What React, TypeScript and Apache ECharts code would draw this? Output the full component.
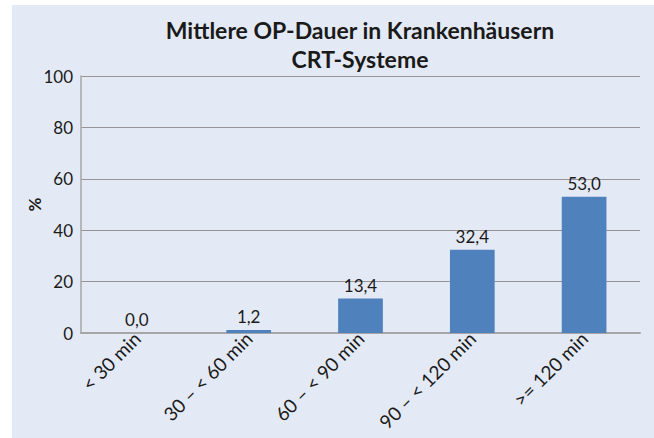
import React, { useEffect, useRef } from "react";
import * as echarts from "echarts";

const titleLines = ["Mittlere OP-Dauer in Krankenhäusern", "CRT-Systeme"];
const categories = ["< 30 min", "30 – < 60 min", "60 – < 90 min", "90 – < 120 min", ">= 120 min"];
const values = [0.0, 1.2, 13.4, 32.4, 53.0];
const yTicks = [0, 20, 40, 60, 80, 100];
const yName = "%";

const FONT = "Lato, 'Noto Sans', sans-serif";

export default function App() {
  const ref = useRef<HTMLDivElement>(null);
  useEffect(() => {
    if (!ref.current) return;
    const chart = echarts.init(ref.current, null, { renderer: "svg" });
    chart.setOption({
      animation: false,
      backgroundColor: "#ffffff",
      graphic: [
        {
          type: "rect",
          z: -10,
          silent: true,
          shape: { x: 12, y: 5, width: 642, height: 433 },
          style: { fill: "#e4eaf5" },
        },
      ],
      title: {
        text: titleLines.join("\n"),
        left: 355,
        top: 10,
        textAlign: "center",
        textStyle: {
          fontFamily: FONT,
          fontSize: 23,
          fontWeight: "bold",
          color: "#1a1a1a",
          lineHeight: 29,
        },
      },
      grid: { left: 81, right: 14, top: 76, bottom: 105, containLabel: false },
      xAxis: {
        type: "category",
        data: categories,
        axisLine: { lineStyle: { color: "#a6a6a6", width: 2 } },
        axisTick: { show: false },
        axisLabel: {
          rotate: 45,
          interval: 0,
          margin: 2,
          fontFamily: FONT,
          fontSize: 19,
          color: "#1a1a1a",
        },
      },
      yAxis: {
        type: "value",
        min: yTicks[0],
        max: yTicks[yTicks.length - 1],
        interval: 20,
        name: yName,
        nameLocation: "middle",
        nameRotate: 90,
        nameGap: 38,
        nameMoveOverlap: false,
        nameTextStyle: { fontFamily: FONT, fontSize: 17, fontWeight: "bold", color: "#1a1a1a" },
        axisLine: { show: true, lineStyle: { color: "#a6a6a6", width: 1.5 } },
        axisTick: { show: false },
        splitLine: { lineStyle: { color: "#959595", width: 1 } },
        axisLabel: {
          margin: 8,
          fontFamily: FONT,
          fontSize: 17,
          color: "#1a1a1a",
        },
      },
      series: [
        {
          type: "bar",
          data: values,
          barWidth: "40%",
          itemStyle: { color: "#4f81bd" },
          label: {
            show: true,
            position: "top",
            distance: 5,
            fontFamily: FONT,
            fontSize: 17,
            color: "#1a1a1a",
            formatter: (p: any) => Number(p.value).toFixed(1).replace(".", ","),
          },
        },
      ],
    });
    return () => chart.dispose();
  }, []);
  return (
    <div
      ref={ref}
      style={{ position: "fixed", left: 0, top: 0, width: 654, height: 438 }}
    />
  );
}
